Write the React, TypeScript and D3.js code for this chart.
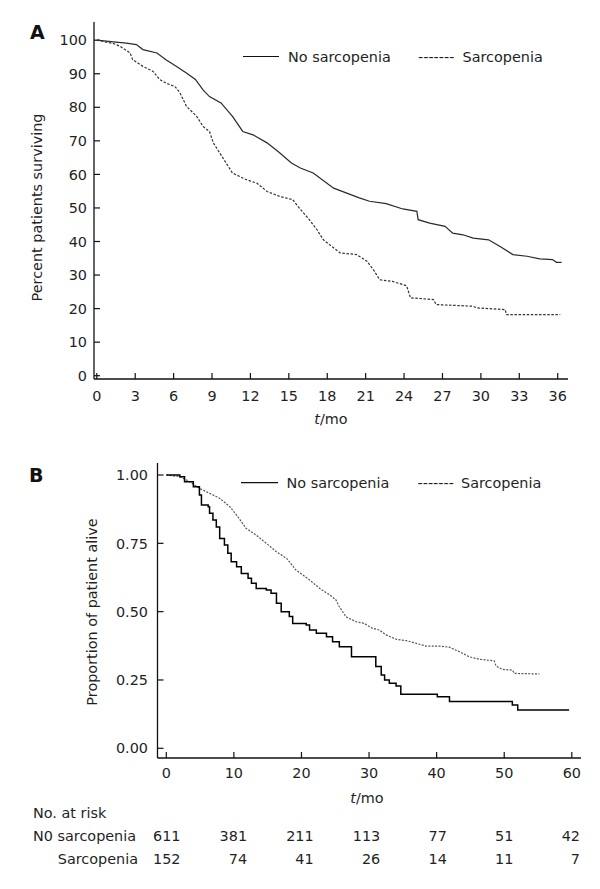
import React from "react";
import * as d3 from "d3";

// ---------- Panel A data (percent surviving, months) ----------
const aNoSarcT = [0, 1.3, 2.3, 3.1, 3.6, 4.7, 5.4, 6.2, 7.0, 7.7, 8.3, 8.8, 9.7, 10.6, 11.4, 12.2, 13.3, 14.3, 15.2, 15.9, 16.9, 18.5, 20.5, 21.3, 22.6, 23.9, 25.0, 25.1, 26.0, 27.2, 27.8, 28.6, 29.4, 30.6, 31.5, 32.5, 33.6, 34.6, 35.6, 35.9, 36.3];
const aNoSarcS = [100, 99.5, 99.1, 98.7, 97.2, 96.2, 94.2, 92.2, 90.2, 88.3, 85.2, 83.2, 81.3, 77.3, 72.8, 71.8, 69.4, 66.4, 63.4, 61.9, 60.4, 55.9, 53.0, 52.0, 51.3, 49.7, 49.0, 46.5, 45.5, 44.5, 42.5, 42.0, 41.0, 40.5, 38.5, 36.1, 35.6, 34.8, 34.6, 33.8, 33.8];
const aSarcT = [0, 1.3, 1.8, 2.6, 2.8, 3.6, 4.4, 4.9, 5.4, 6.1, 6.5, 7.0, 7.8, 8.3, 8.8, 9.1, 9.6, 10.1, 10.6, 11.7, 12.5, 13.3, 14.3, 15.3, 15.7, 16.6, 17.2, 17.7, 18.2, 19.0, 20.3, 21.1, 21.6, 22.1, 23.1, 24.2, 24.5, 26.3, 26.5, 29.4, 29.7, 31.9, 32.0, 36.2];
const aSarcS = [100, 99.0, 98.2, 96.2, 94.2, 92.2, 90.7, 88.3, 87.2, 86.2, 84.3, 80.3, 77.3, 74.3, 72.8, 69.4, 66.4, 63.4, 60.4, 58.4, 57.4, 54.9, 53.4, 52.5, 50.5, 46.5, 43.5, 40.5, 39.0, 36.6, 36.1, 34.1, 31.6, 28.6, 28.1, 26.8, 23.2, 22.7, 21.2, 20.7, 20.2, 19.7, 18.2, 18.2];
const aXTicks = [0, 3, 6, 9, 12, 15, 18, 21, 24, 27, 30, 33, 36];
const aYTicks = [0, 10, 20, 30, 40, 50, 60, 70, 80, 90, 100];

// ---------- Panel B data (proportion alive, months) ----------
const bNoSarcT = [0, 2.0, 2.7, 4.0, 4.9, 5.2, 6.2, 6.4, 6.9, 7.4, 7.9, 8.6, 9.1, 9.6, 10.4, 11.1, 12.1, 12.6, 13.3, 14.8, 15.5, 16.3, 17.0, 18.2, 18.7, 20.7, 21.2, 22.2, 23.7, 24.6, 25.6, 27.4, 31.0, 31.8, 32.3, 33.0, 34.0, 34.7, 40.1, 41.9, 51.2, 52.0, 59.6];
const bNoSarcS = [1, 0.994, 0.975, 0.957, 0.927, 0.89, 0.884, 0.86, 0.835, 0.81, 0.768, 0.744, 0.714, 0.683, 0.664, 0.64, 0.622, 0.604, 0.585, 0.579, 0.567, 0.531, 0.5, 0.482, 0.457, 0.451, 0.433, 0.421, 0.408, 0.39, 0.372, 0.335, 0.299, 0.268, 0.25, 0.238, 0.228, 0.198, 0.189, 0.171, 0.158, 0.14, 0.14];
const bSarcT = [0, 2.0, 3.5, 4.9, 6.4, 7.9, 9.4, 10.6, 11.8, 13.3, 14.8, 16.3, 17.8, 19.2, 21.2, 22.7, 24.2, 25.1, 25.6, 26.6, 28.1, 29.3, 30.5, 31.5, 32.5, 34.0, 35.5, 37.0, 38.4, 40.4, 41.9, 43.4, 44.8, 46.3, 48.5, 48.8, 49.7, 51.2, 51.5, 55.2];
const bSarcS = [1, 0.994, 0.975, 0.951, 0.933, 0.915, 0.884, 0.847, 0.805, 0.78, 0.75, 0.719, 0.695, 0.652, 0.616, 0.585, 0.561, 0.543, 0.518, 0.481, 0.463, 0.457, 0.439, 0.433, 0.415, 0.399, 0.394, 0.384, 0.374, 0.374, 0.37, 0.353, 0.335, 0.326, 0.32, 0.301, 0.289, 0.286, 0.274, 0.272];
const bXTicks = [0, 10, 20, 30, 40, 50, 60];
const bYTicks = [0, 0.25, 0.5, 0.75, 1];

// ---------- Number at risk ----------
const riskTimes = [0, 10, 20, 30, 40, 50, 60];
const riskNoSarc = [611, 381, 211, 113, 77, 51, 42];
const riskSarc = [152, 74, 41, 26, 14, 11, 7];

const FONT = "'DejaVu Sans', Verdana, sans-serif";
const FS = 14.4;
const TXT = "#1f1f24";

function zip(t: number[], s: number[]): [number, number][] {
  return t.map((v, i) => [v, s[i]] as [number, number]);
}

export default function App() {
  // Panel A scales
  const ax = d3.scaleLinear().domain([0, 36]).range([96.8, 557.7]);
  const ay = d3.scaleLinear().domain([0, 100]).range([375.7, 40.2]);
  const aLine = d3
    .line<[number, number]>()
    .x((d) => ax(d[0]))
    .y((d) => ay(d[1]))
    .curve(d3.curveLinear);

  // Panel B scales
  const bx = d3.scaleLinear().domain([0, 60]).range([166.3, 571.8]);
  const by = d3.scaleLinear().domain([0, 1]).range([748.3, 475]);
  const bStep = d3
    .line<[number, number]>()
    .x((d) => bx(d[0]))
    .y((d) => by(d[1]))
    .curve(d3.curveStepAfter);
  const bLin = d3
    .line<[number, number]>()
    .x((d) => bx(d[0]))
    .y((d) => by(d[1]))
    .curve(d3.curveLinear);
  const riskX = d3.scaleLinear().domain([0, 60]).range([180.5, 580]);

  const tickLen = 6;

  return (
    <svg
      width={600}
      height={889}
      style={{ position: "absolute", left: 0, top: 0, background: "#fff" }}
      fontFamily={FONT}
      fontSize={FS}
    >
      <rect x={0} y={0} width={600} height={889} fill="#fff" />

      {/* ================= Panel A ================= */}
      <text x={30} y={39} fontSize={19} fontWeight="bold" fill="#111">A</text>
      <line x1={94} y1={22} x2={94} y2={379} stroke="#111" strokeWidth={1.3} />
      <line x1={94} y1={379} x2={568} y2={379} stroke="#111" strokeWidth={1.3} />
      {aYTicks.map((v) => (
        <g key={"ay" + v}>
          <line x1={94} x2={94 + tickLen} y1={ay(v)} y2={ay(v)} stroke="#111" strokeWidth={1.2} />
          <text x={87} y={ay(v)} dy="0.36em" textAnchor="end" fill={TXT}>{v}</text>
        </g>
      ))}
      {aXTicks.map((v) => (
        <g key={"ax" + v}>
          <line x1={ax(v)} x2={ax(v)} y1={379} y2={379 - tickLen} stroke="#111" strokeWidth={1.2} />
          <text x={ax(v)} y={401} textAnchor="middle" fill={TXT}>{v}</text>
        </g>
      ))}
      <text transform="translate(42,207.5) rotate(-90)" textAnchor="middle" fill={TXT}>
        Percent patients surviving
      </text>
      <text x={331} y={424} textAnchor="middle" fill={TXT}>
        <tspan fontStyle="italic">t</tspan>/mo
      </text>
      <path d={aLine(zip(aNoSarcT, aNoSarcS)) || ""} fill="none" stroke="#2a2a2a" strokeWidth={1.2} />
      <path d={aLine(zip(aSarcT, aSarcS)) || ""} fill="none" stroke="#333" strokeWidth={1.2} strokeDasharray="2.5,1.6" />
      <line x1={243} x2={279} y1={56.5} y2={56.5} stroke="#111" strokeWidth={1.2} />
      <text x={288} y={62} fill={TXT}>No sarcopenia</text>
      <text x={418} y={62} fill={TXT}>-------</text>
      <text x={462.5} y={62} fill={TXT}>Sarcopenia</text>

      {/* ================= Panel B ================= */}
      <text x={29} y={482} fontSize={19} fontWeight="bold" fill="#111">B</text>
      <line x1={157.5} y1={463} x2={157.5} y2={758} stroke="#111" strokeWidth={1.3} />
      <line x1={157.5} y1={758} x2={581} y2={758} stroke="#111" strokeWidth={1.3} />
      {bYTicks.map((v) => (
        <g key={"by" + v}>
          <line x1={157.5} x2={157.5 + tickLen} y1={by(v)} y2={by(v)} stroke="#111" strokeWidth={1.2} />
          <text x={148} y={by(v)} dy="0.36em" textAnchor="end" fill={TXT}>{d3.format(".2f")(v)}</text>
        </g>
      ))}
      {bXTicks.map((v) => (
        <g key={"bx" + v}>
          <line x1={bx(v)} x2={bx(v)} y1={758} y2={758 - tickLen} stroke="#111" strokeWidth={1.2} />
          <text x={bx(v)} y={778} textAnchor="middle" fill={TXT}>{v}</text>
        </g>
      ))}
      <text transform="translate(97,612) rotate(-90)" textAnchor="middle" fill={TXT}>
        Proportion of patient alive
      </text>
      <text x={367} y={803} textAnchor="middle" fill={TXT}>
        <tspan fontStyle="italic">t</tspan>/mo
      </text>
      <path d={bLin(zip(bSarcT, bSarcS)) || ""} fill="none" stroke="#555" strokeWidth={1.2} strokeDasharray="2,1.4" />
      <path d={bStep(zip(bNoSarcT, bNoSarcS)) || ""} fill="none" stroke="#000" strokeWidth={1.5} />
      <line x1={241} x2={278} y1={482.7} y2={482.7} stroke="#111" strokeWidth={1.2} />
      <text x={286.5} y={488} fill={TXT}>No sarcopenia</text>
      <text x={417.5} y={488} fill={TXT}>-------</text>
      <text x={461} y={488} fill={TXT}>Sarcopenia</text>

      {/* risk table */}
      <text x={33} y={818} fill={TXT}>No. at risk</text>
      <text x={33} y={841} fill={TXT}>N0 sarcopenia</text>
      <text x={138} y={864} textAnchor="end" fill={TXT}>Sarcopenia</text>
      {riskTimes.map((t, i) => (
        <g key={"r" + t}>
          <text x={riskX(t)} y={841} textAnchor="end" fill={TXT}>{riskNoSarc[i]}</text>
          <text x={riskX(t)} y={864} textAnchor="end" fill={TXT}>{riskSarc[i]}</text>
        </g>
      ))}
    </svg>
  );
}
